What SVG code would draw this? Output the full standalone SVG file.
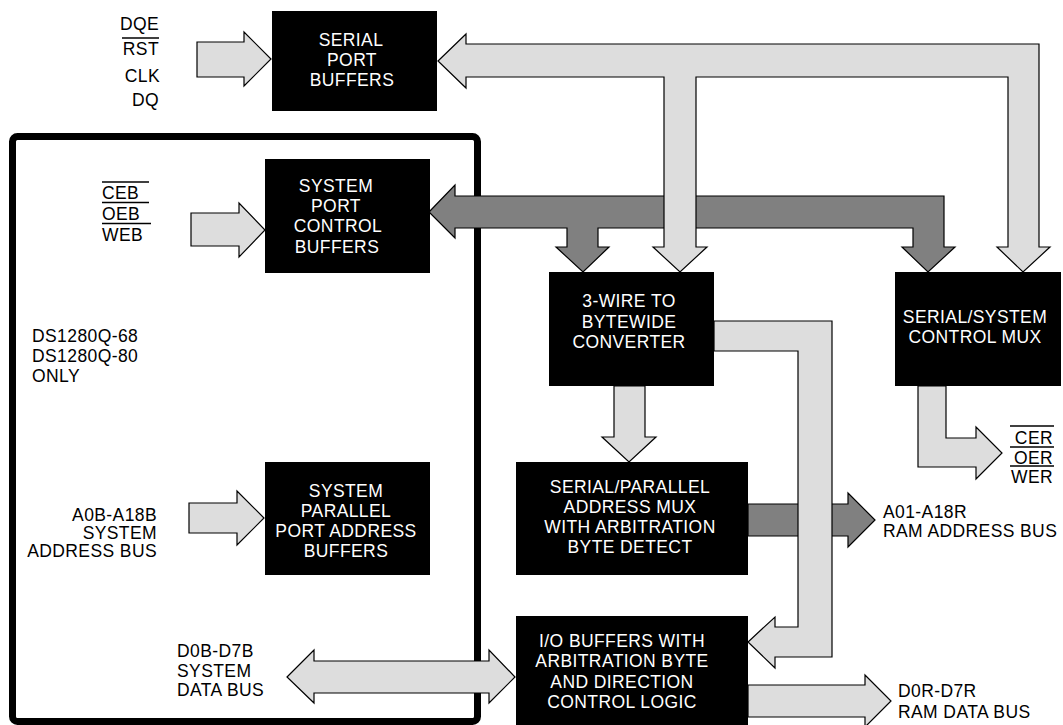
<svg xmlns="http://www.w3.org/2000/svg" width="1063" height="725" viewBox="0 0 1063 725">
<style>
  .box { fill: #000; }
  .bt { fill: #fff; font-family: "Liberation Sans", Arial, sans-serif; font-size: 17.5px; letter-spacing: 0.4px; text-anchor: middle; }
  .lbl { fill: #000; font-family: "Liberation Sans", Arial, sans-serif; font-size: 17.5px; letter-spacing: 0.4px; }
  .end { text-anchor: end; }
  .light { fill: #dddddd; stroke: #000; stroke-width: 1.2; stroke-linejoin: miter; }
  .dark { fill: #808080; stroke: #000; stroke-width: 1.2; stroke-linejoin: miter; }
  .ovl { stroke: #000; stroke-width: 1.4; }
  .frame { fill: none; stroke: #000; stroke-width: 7; }
</style>
<rect width="1063" height="725" fill="#fff"/>

<g id="frame-ds1280q">
  <rect class="frame" x="12.5" y="136.5" width="465" height="585" rx="5"/>
  <text class="lbl" x="32" y="342">DS1280Q-68</text>
  <text class="lbl" x="32" y="362">DS1280Q-80</text>
  <text class="lbl" x="32" y="382">ONLY</text>
</g>

<g id="connectors">
  <polygon class="light" points="197,42 244,42 244,32 271,59 244,86 244,77 197,77"/>
  <polygon class="light" points="191,213 239,213 239,203 265,230 239,257 239,246 191,246"/>
  <polygon class="light" points="189,503 237,503 237,491 264,518 237,545 237,533 189,533"/>
  <polygon class="light" points="287,677 314,650 314,661 489,661 489,650 515,677 489,703 489,693 314,693 314,703"/>
  <polygon class="dark" points="429,212 455,185 455,196 944,196 944,247 955,247 928,272 902,247 913,247 913,228 598,228 598,247 609,247 583,272 556,247 567,247 567,228 455,228 455,238"/>
  <polygon class="light" points="438,61 466,34 466,44 1039,44 1039,247 1050,247 1023,272 997,247 1008,247 1008,77 696,77 696,247 707,247 680,272 653,247 664,247 664,77 466,77 466,88"/>
  <polygon class="light" points="614,386 645,386 645,437 656,437 629,462 602,437 614,437"/>
  <polygon class="dark" points="748,504 848,504 848,493 875,520 848,547 848,536 748,536"/>
  <polygon class="light" points="714,321 832,321 832,657 775,657 775,668 748,642 775,617 775,627 798,627 798,351 714,351"/>
  <polygon class="light" points="918,386 946,386 946,438 976,438 976,427 1002,453 976,479 976,467 918,467"/>
  <polygon class="light" points="748,685 865,685 865,675 891,701 865,727 865,717 748,717"/>
</g>

<g id="serial-port-buffers">
  <rect class="box" x="272" y="11" width="165" height="100"/>
  <text class="bt" x="351" y="46">SERIAL</text>
  <text class="bt" x="352" y="66">PORT</text>
  <text class="bt" x="352" y="86">BUFFERS</text>
</g>
<g id="serial-inputs">
  <text class="lbl end" x="159" y="30">DQE</text>
  <text class="lbl end" x="159" y="55">RST</text>
  <line class="ovl" x1="122" y1="38" x2="159" y2="38"/>
  <text class="lbl end" x="160" y="82">CLK</text>
  <text class="lbl end" x="159" y="106">DQ</text>
</g>

<g id="system-port-control-buffers">
  <rect class="box" x="265" y="159" width="165" height="114"/>
  <text class="bt" x="336" y="192">SYSTEM</text>
  <text class="bt" x="336" y="212">PORT</text>
  <text class="bt" x="338" y="232">CONTROL</text>
  <text class="bt" x="337" y="253">BUFFERS</text>
</g>
<g id="system-control-inputs">
  <text class="lbl" x="102" y="199">CEB</text>
  <line class="ovl" x1="102" y1="182" x2="149" y2="182"/>
  <text class="lbl" x="102" y="220">OEB</text>
  <line class="ovl" x1="102" y1="202.5" x2="149" y2="202.5"/>
  <text class="lbl" x="102" y="241">WEB</text>
  <line class="ovl" x1="102" y1="223.5" x2="151" y2="223.5"/>
</g>

<g id="system-parallel-port-address-buffers">
  <rect class="box" x="265" y="462" width="165" height="113"/>
  <text class="bt" x="346" y="497">SYSTEM</text>
  <text class="bt" x="346" y="517">PARALLEL</text>
  <text class="bt" x="346" y="537">PORT ADDRESS</text>
  <text class="bt" x="346" y="557">BUFFERS</text>
</g>
<g id="system-address-bus-label">
  <text class="lbl end" x="157" y="521">A0B-A18B</text>
  <text class="lbl end" x="157" y="539">SYSTEM</text>
  <text class="lbl end" x="157" y="557">ADDRESS BUS</text>
</g>

<g id="system-data-bus-label">
  <text class="lbl" x="177" y="657">D0B-D7B</text>
  <text class="lbl" x="177" y="677">SYSTEM</text>
  <text class="lbl" x="177" y="696">DATA BUS</text>
</g>

<g id="three-wire-converter">
  <rect class="box" x="549" y="272" width="165" height="114"/>
  <text class="bt" x="629" y="307">3-WIRE TO</text>
  <text class="bt" x="629" y="327.5">BYTEWIDE</text>
  <text class="bt" x="629" y="348">CONVERTER</text>
</g>

<g id="serial-system-control-mux">
  <rect class="box" x="895" y="272" width="166" height="114"/>
  <text class="bt" x="975" y="323">SERIAL/SYSTEM</text>
  <text class="bt" x="975" y="343">CONTROL MUX</text>
</g>
<g id="ram-control-outputs">
  <text class="lbl end" x="1053" y="444">CER</text>
  <line class="ovl" x1="1010" y1="426" x2="1054" y2="426"/>
  <text class="lbl end" x="1053" y="464">OER</text>
  <line class="ovl" x1="1010" y1="447" x2="1054" y2="447"/>
  <text class="lbl end" x="1053" y="483">WER</text>
  <line class="ovl" x1="1010" y1="466" x2="1054" y2="466"/>
</g>

<g id="serial-parallel-address-mux">
  <rect class="box" x="516" y="462" width="232" height="113"/>
  <text class="bt" x="630" y="493">SERIAL/PARALLEL</text>
  <text class="bt" x="630" y="513">ADDRESS MUX</text>
  <text class="bt" x="630" y="533">WITH ARBITRATION</text>
  <text class="bt" x="630" y="553">BYTE DETECT</text>
</g>
<g id="ram-address-bus-label">
  <text class="lbl" x="883" y="518">A01-A18R</text>
  <text class="lbl" x="883" y="537">RAM ADDRESS BUS</text>
</g>

<g id="io-buffers">
  <rect class="box" x="516" y="616" width="232" height="112"/>
  <text class="bt" x="622" y="646.5">I/O BUFFERS WITH</text>
  <text class="bt" x="622" y="667">ARBITRATION BYTE</text>
  <text class="bt" x="622" y="687.5">AND DIRECTION</text>
  <text class="bt" x="622" y="708">CONTROL LOGIC</text>
</g>
<g id="ram-data-bus-label">
  <text class="lbl" x="898" y="697">D0R-D7R</text>
  <text class="lbl" x="898" y="718">RAM DATA BUS</text>
</g>
</svg>
